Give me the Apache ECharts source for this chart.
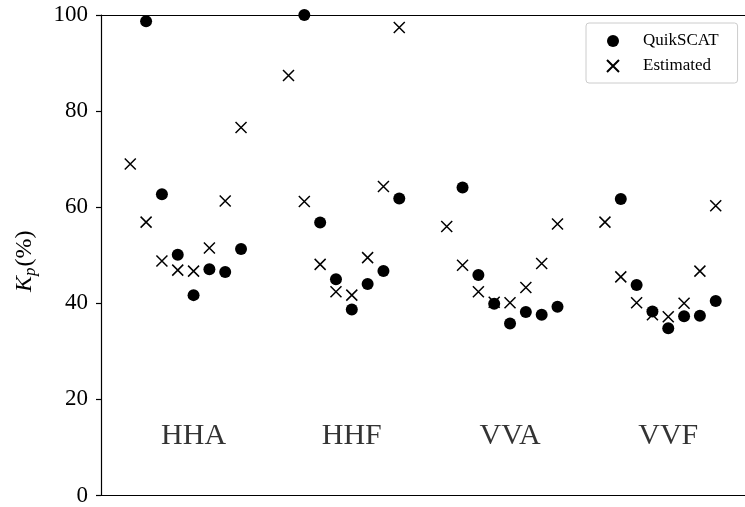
<!DOCTYPE html>
<html>
<head>
<meta charset="utf-8">
<script src="https://cdn.jsdelivr.net/npm/echarts@6/dist/echarts.min.js"></script>
<style>
  html, body { margin: 0; padding: 0; background: #fff; }
  #chart { width: 745px; height: 507px; }
</style>
</head>
<body>
<div id="chart"></div>
<script>
// Polarisation/beam groups, each with eight bins along the x axis
const groups = ['HHA', 'HHF', 'VVA', 'VVF'];

// QuikSCAT Kp (%) per bin; the first bin of each group falls above the axis range
const quikscatHHA = [null, 98.7, 62.7, 50.1, 41.7, 47.1, 46.5, 51.3];
const quikscatHHF = [null, 100.0, 56.8, 45.0, 38.7, 44.0, 46.7, 61.8];
const quikscatVVA = [null, 64.1, 45.9, 39.9, 35.8, 38.2, 37.6, 39.3];
const quikscatVVF = [null, 61.7, 43.8, 38.3, 34.8, 37.3, 37.4, 40.5];

// Estimated Kp (%) per bin
const estimatedHHA = [69.0, 56.9, 48.8, 46.9, 46.7, 51.5, 61.3, 76.6];
const estimatedHHF = [87.4, 61.2, 48.1, 42.4, 41.7, 49.5, 64.3, 97.4];
const estimatedVVA = [56.0, 47.9, 42.4, 40.2, 40.1, 43.3, 48.3, 56.5];
const estimatedVVF = [56.9, 45.5, 40.1, 37.6, 37.2, 40.0, 46.7, 60.3];

// Y axis ticks
const yTicks = [0, 20, 40, 60, 80, 100];

const groupStep = 10;      // x spacing between groups
const labelBin = 4;        // group label sits over this bin
const labelY = 10;         // y value of group labels

const serif = '"Liberation Serif", "DejaVu Serif", serif';

function toPoints(groupArrays) {
  const out = [];
  groupArrays.forEach((arr, g) => {
    arr.forEach((v, i) => {
      if (v !== null) out.push([g * groupStep + i, v]);
    });
  });
  return out;
}

const quikscatPts = toPoints([quikscatHHA, quikscatHHF, quikscatVVA, quikscatVVF]);
const estimatedPts = toPoints([estimatedHHA, estimatedHHF, estimatedVVA, estimatedVVF]);
const labelPts = groups.map((name, g) => ({ name, value: [g * groupStep + labelBin, labelY] }));

const crossPath = 'path://M0,0L10,10M10,0L0,10';

const chart = echarts.init(document.getElementById('chart'), null, { renderer: 'canvas' });
chart.setOption({
  backgroundColor: '#ffffff',
  animation: false,
  grid: { left: 100, right: -1, top: 15, bottom: 11, containLabel: false },
  xAxis: [
    {
      type: 'value', min: -1.85, max: 38.85, position: 'bottom',
      axisLine: { show: true, onZero: false, lineStyle: { color: '#000', width: 1.2 } },
      axisTick: { show: false }, axisLabel: { show: false }, splitLine: { show: false }
    },
    {
      type: 'value', min: -1.85, max: 38.85, position: 'top',
      axisLine: { show: true, onZero: false, lineStyle: { color: '#000', width: 1.2 } },
      axisTick: { show: false }, axisLabel: { show: false }, splitLine: { show: false }
    }
  ],
  yAxis: {
    type: 'value', min: yTicks[0], max: yTicks[yTicks.length - 1], interval: 20,
    position: 'left',
    name: '{k|K}{p|p}{n|(%)}',
    nameLocation: 'middle', nameRotate: 90, nameGap: 62,
    nameTextStyle: {
      color: '#000', fontFamily: serif, fontSize: 24,
      padding: [0, 12, 0, 0],
      rich: {
        k: { fontFamily: serif, fontStyle: 'italic', fontSize: 24, color: '#000', verticalAlign: 'top', lineHeight: 26 },
        p: { fontFamily: serif, fontStyle: 'italic', fontSize: 17, color: '#000', verticalAlign: 'bottom', lineHeight: 17, padding: [14, 1, 0, 0] },
        n: { fontFamily: serif, fontSize: 24, color: '#000', verticalAlign: 'top', lineHeight: 26 }
      }
    },
    axisLine: { show: true, onZero: false, lineStyle: { color: '#000', width: 1.2 } },
    axisTick: { show: true, inside: false, length: 5, lineStyle: { color: '#000', width: 1.2 } },
    axisLabel: { color: '#000', fontFamily: serif, fontSize: 23, margin: 13 },
    splitLine: { show: false }
  },
  legend: {
    orient: 'vertical',
    left: 586, top: 23,
    padding: [9, 19, 8, 20],
    itemWidth: 50, itemHeight: 12, itemGap: 7,
    backgroundColor: '#fff',
    borderColor: '#cccccc', borderWidth: 1, borderRadius: 3,
    textStyle: { color: '#000', fontFamily: serif, fontSize: 17, lineHeight: 18 },
    data: ['QuikSCAT', 'Estimated']
  },
  series: [
    {
      name: 'QuikSCAT', type: 'scatter', xAxisIndex: 0,
      symbol: 'circle', symbolSize: 12,
      itemStyle: { color: '#000', opacity: 1 },
      data: quikscatPts
    },
    {
      name: 'Estimated', type: 'scatter', xAxisIndex: 0,
      symbol: crossPath, symbolSize: 11,
      itemStyle: { color: 'rgba(0,0,0,0)', borderColor: '#000', borderWidth: 1.5, opacity: 1 },
      data: estimatedPts
    },
    {
      name: 'groups', type: 'scatter', xAxisIndex: 0, silent: true,
      symbolSize: 0,
      label: {
        show: true, position: [0, 0], offset: [0, -11],
        align: 'center', verticalAlign: 'middle',
        formatter: '{b}', color: '#000', fontFamily: serif, fontSize: 30
      },
      data: labelPts
    }
  ]
});
</script>
</body>
</html>
